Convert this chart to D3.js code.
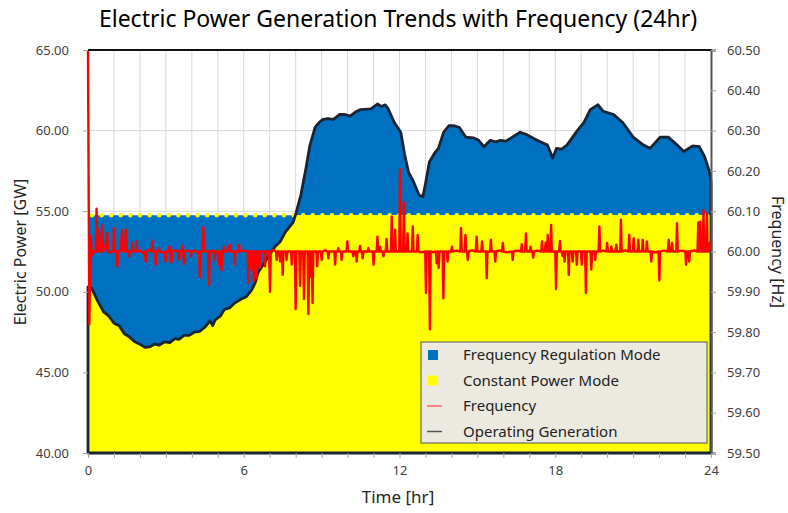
<!DOCTYPE html>
<meta charset="utf-8">
<script src="https://d3js.org/d3.v7.min.js"></script>
<style>
  body { margin: 0; background: #fff; }
  text { font-family: "Noto Sans", sans-serif; }
</style>
<body>
<div id="chart"></div>
<script>
// operating generation [hour, GW]
const generation = [
  [0, 50.3], [0.15, 50.2], [0.35, 49.5], [0.6, 48.75], [0.8, 48.5], [1.0, 48.05], [1.2, 47.9],
  [1.4, 47.4], [1.6, 47.2], [1.8, 46.9], [2.0, 46.75], [2.2, 46.55], [2.4, 46.6], [2.55, 46.75],
  [2.75, 46.7], [2.95, 46.9], [3.15, 46.85], [3.35, 47.1], [3.5, 47.05], [3.7, 47.3], [3.9, 47.3],
  [4.1, 47.5], [4.3, 47.55], [4.5, 47.8], [4.7, 48.2], [4.8, 47.9], [4.9, 48.25], [5.1, 48.5],
  [5.25, 48.9], [5.45, 49.0], [5.65, 49.3], [5.9, 49.55], [6.1, 49.7], [6.3, 50.1], [6.45, 50.6],
  [6.55, 51.2], [6.8, 51.8], [7.0, 52.3], [7.2, 52.8], [7.4, 53.1], [7.6, 53.7], [7.9, 54.3],
  [8.0, 54.8], [8.2, 56.0], [8.4, 57.7], [8.55, 59.1], [8.75, 60.2], [8.9, 60.5], [9.05, 60.7],
  [9.25, 60.75], [9.45, 60.7], [9.7, 61.0], [9.9, 61.0], [10.1, 60.9], [10.3, 61.15], [10.5, 61.3],
  [10.9, 61.35], [11.15, 61.65], [11.3, 61.5], [11.45, 61.6], [11.55, 61.4], [11.8, 60.5],
  [12.05, 59.9], [12.2, 58.5], [12.35, 57.4], [12.55, 56.8], [12.75, 56.0], [12.9, 55.9],
  [13.0, 56.7], [13.15, 58.05], [13.35, 58.6], [13.5, 58.9], [13.7, 59.9], [13.9, 60.3],
  [14.1, 60.3], [14.3, 60.2], [14.55, 59.6], [14.85, 59.55], [15.05, 59.4], [15.25, 59.0],
  [15.5, 59.4], [15.7, 59.3], [15.9, 59.4], [16.1, 59.35], [16.3, 59.55], [16.65, 59.9],
  [16.9, 59.75], [17.3, 59.4], [17.7, 59.1], [17.9, 58.3], [18.05, 58.9], [18.25, 58.85],
  [18.45, 59.1], [18.85, 60.0], [19.1, 60.5], [19.35, 61.3], [19.65, 61.6], [19.85, 61.2],
  [20.25, 61.0], [20.6, 60.5], [21.0, 59.6], [21.4, 59.1], [21.65, 58.9], [22.05, 59.6],
  [22.35, 59.6], [22.7, 59.1], [22.95, 58.7], [23.3, 59.05], [23.55, 59.0], [23.75, 58.4],
  [23.95, 57.4], [24.0, 56.8]
];

// constant power set point [GW]
const constantPower = 54.75;

// frequency [hour, Hz]
const frequency = [
  [0.00, 60.50], [0.05, 59.82], [0.10, 60.04], [0.15, 59.99], [0.22, 60.00], [0.30, 60.00],
  [0.33, 60.106], [0.36, 60.00], [0.42, 60.054], [0.45, 60.00], [0.52, 60.00], [0.55, 60.064],
  [0.58, 60.00], [0.66, 60.005], [0.74, 60.046], [0.77, 60.00], [0.85, 59.997], [0.97, 60.00],
  [1.00, 60.058], [1.03, 60.00], [1.10, 60.00], [1.13, 59.963], [1.16, 60.00], [1.25, 60.003],
  [1.32, 60.053], [1.35, 60.00], [1.43, 60.00], [1.46, 60.055], [1.50, 60.00], [1.55, 60.00],
  [1.58, 59.988], [1.61, 60.00], [1.68, 60.00], [1.71, 60.021], [1.74, 60.00], [1.84, 60.00],
  [1.87, 60.025], [1.90, 60.00], [2.00, 60.003], [2.10, 59.996], [2.19, 60.00], [2.22, 59.975],
  [2.25, 60.00], [2.35, 60.004], [2.45, 60.00], [2.48, 60.027], [2.51, 60.00], [2.58, 60.00],
  [2.61, 59.967], [2.64, 60.00], [2.70, 60.00], [2.73, 60.008], [2.76, 60.00], [2.85, 59.997],
  [2.96, 60.00], [2.99, 59.975], [3.02, 60.00], [3.10, 60.00], [3.14, 60.012], [3.18, 60.00],
  [3.21, 59.973], [3.24, 60.00], [3.35, 60.003], [3.48, 60.00], [3.51, 59.979], [3.54, 60.00],
  [3.60, 60.00], [3.63, 60.014], [3.67, 60.00], [3.70, 59.969], [3.73, 60.00], [3.85, 60.003],
  [3.93, 60.00], [3.96, 59.988], [3.99, 60.00], [4.10, 60.002], [4.20, 59.998], [4.28, 60.00],
  [4.31, 59.936], [4.34, 60.00], [4.41, 60.00], [4.44, 60.060], [4.47, 60.00], [4.55, 60.00],
  [4.63, 60.00], [4.66, 59.917], [4.69, 60.00], [4.78, 60.003], [4.85, 60.00], [4.88, 59.979],
  [4.91, 60.00], [5.02, 60.00], [5.05, 59.967], [5.08, 60.00], [5.11, 60.00], [5.14, 59.953],
  [5.17, 60.00], [5.21, 60.00], [5.24, 60.012], [5.27, 60.00], [5.36, 60.00], [5.47, 60.017],
  [5.50, 60.00], [5.62, 60.00], [5.65, 59.967], [5.68, 60.00], [5.79, 60.00], [5.82, 60.017],
  [5.85, 60.00], [5.95, 60.002], [6.15, 60.00], [6.18, 59.921], [6.21, 60.00], [6.27, 60.00],
  [6.30, 59.955], [6.33, 60.00], [6.36, 60.00], [6.39, 59.926], [6.42, 60.00], [6.47, 60.00],
  [6.50, 59.934], [6.53, 60.00], [6.59, 60.00], [6.62, 59.959], [6.65, 60.00], [6.79, 60.00],
  [6.82, 59.963], [6.85, 60.00], [6.98, 60.00], [7.01, 59.900], [7.04, 60.00], [7.15, 60.004],
  [7.24, 60.00], [7.27, 59.979], [7.30, 60.00], [7.37, 60.00], [7.40, 59.975], [7.43, 60.00],
  [7.47, 60.00], [7.50, 59.942], [7.53, 60.00], [7.62, 60.00], [7.65, 59.979], [7.68, 60.00],
  [7.82, 60.00], [7.85, 59.967], [7.88, 60.00], [7.97, 60.00], [8.00, 59.857], [8.03, 60.00],
  [8.14, 60.00], [8.17, 59.915], [8.20, 60.00], [8.29, 60.00], [8.32, 59.882], [8.35, 60.00],
  [8.46, 60.00], [8.49, 59.845], [8.52, 60.00], [8.55, 60.00], [8.58, 59.937], [8.61, 60.00],
  [8.65, 59.872], [8.68, 60.00], [8.80, 60.00], [8.83, 59.963], [8.86, 60.00], [8.97, 60.00],
  [9.00, 59.979], [9.03, 60.00], [9.15, 60.003], [9.23, 60.00], [9.26, 59.983], [9.29, 60.00],
  [9.49, 60.00], [9.52, 59.967], [9.55, 60.00], [9.61, 60.00], [9.64, 60.008], [9.67, 60.00],
  [9.74, 60.00], [9.77, 59.979], [9.80, 60.00], [9.96, 60.00], [9.99, 60.025], [10.02, 60.00],
  [10.19, 60.00], [10.22, 59.988], [10.25, 60.00], [10.32, 60.00], [10.35, 59.975], [10.38, 60.00],
  [10.45, 60.00], [10.48, 60.014], [10.51, 60.00], [10.55, 60.00], [10.58, 59.983], [10.61, 60.00],
  [10.77, 60.00], [10.80, 60.008], [10.83, 60.00], [10.97, 60.00], [11.00, 59.967], [11.03, 60.00],
  [11.12, 60.00], [11.15, 60.037], [11.18, 60.00], [11.22, 60.00], [11.25, 60.012], [11.28, 60.00],
  [11.35, 60.00], [11.38, 59.988], [11.41, 60.00], [11.47, 60.00], [11.50, 60.031], [11.53, 60.00],
  [11.67, 60.00], [11.70, 60.087], [11.73, 60.00], [11.80, 60.00], [11.83, 60.054], [11.86, 60.00],
  [11.99, 60.00], [12.02, 60.204], [12.05, 60.00], [12.14, 60.00], [12.17, 60.122], [12.20, 60.00],
  [12.28, 60.00], [12.31, 60.045], [12.34, 60.00], [12.48, 60.00], [12.51, 60.062], [12.54, 60.00],
  [12.67, 60.00], [12.70, 60.041], [12.73, 60.00], [12.85, 59.998], [12.99, 60.00], [13.02, 59.897],
  [13.05, 60.00], [13.14, 60.00], [13.17, 59.807], [13.20, 60.00], [13.30, 59.998], [13.40, 60.00],
  [13.43, 59.971], [13.46, 60.00], [13.48, 60.00], [13.51, 59.959], [13.54, 60.00], [13.66, 60.00],
  [13.69, 59.884], [13.72, 60.00], [13.82, 60.00], [13.85, 59.975], [13.88, 60.00], [13.99, 60.00],
  [14.02, 60.012], [14.05, 60.00], [14.20, 60.002], [14.34, 60.00], [14.37, 60.058], [14.40, 60.00],
  [14.51, 60.00], [14.54, 60.041], [14.57, 60.00], [14.60, 60.00], [14.63, 59.979], [14.66, 60.00],
  [14.80, 60.003], [14.94, 60.00], [14.97, 60.037], [15.00, 60.00], [15.15, 60.00], [15.18, 60.025],
  [15.21, 60.00], [15.33, 60.00], [15.36, 59.934], [15.39, 60.00], [15.49, 60.00], [15.52, 60.029],
  [15.55, 60.00], [15.66, 60.00], [15.69, 59.975], [15.72, 60.00], [15.85, 60.003], [15.95, 60.00],
  [15.98, 60.021], [16.01, 60.00], [16.15, 59.998], [16.33, 60.00], [16.36, 59.979], [16.39, 60.00],
  [16.55, 60.002], [16.68, 60.00], [16.71, 60.018], [16.74, 60.00], [16.84, 60.00], [16.87, 60.045],
  [16.90, 60.00], [17.02, 60.00], [17.05, 60.012], [17.08, 60.00], [17.12, 60.00], [17.15, 59.985],
  [17.18, 60.00], [17.30, 60.002], [17.46, 60.00], [17.49, 60.025], [17.52, 60.00], [17.60, 60.00],
  [17.63, 60.022], [17.66, 60.00], [17.68, 60.00], [17.71, 60.041], [17.74, 60.00], [17.81, 60.00],
  [17.84, 60.066], [17.87, 60.00], [18.00, 60.00], [18.03, 59.907], [18.06, 60.00], [18.15, 60.00],
  [18.18, 60.026], [18.21, 60.00], [18.25, 60.00], [18.28, 59.989], [18.31, 60.00], [18.33, 60.00],
  [18.36, 59.975], [18.39, 60.00], [18.49, 60.00], [18.52, 59.942], [18.55, 60.00], [18.64, 60.00],
  [18.67, 59.975], [18.70, 60.00], [18.80, 60.00], [18.83, 59.967], [18.86, 60.00], [18.99, 60.00],
  [19.02, 59.967], [19.05, 60.00], [19.15, 60.00], [19.18, 59.897], [19.21, 60.00], [19.36, 60.00],
  [19.39, 59.955], [19.42, 60.00], [19.51, 60.00], [19.54, 59.979], [19.57, 60.00], [19.67, 60.00],
  [19.70, 60.062], [19.73, 60.00], [19.85, 60.002], [19.97, 60.00], [20.00, 60.021], [20.03, 60.00],
  [20.13, 60.00], [20.16, 60.012], [20.19, 60.00], [20.32, 60.00], [20.35, 60.017], [20.38, 60.00],
  [20.50, 60.00], [20.53, 60.079], [20.56, 60.00], [20.70, 60.003], [20.82, 60.00], [20.85, 60.041],
  [20.88, 60.00], [20.99, 60.00], [21.02, 60.033], [21.05, 60.00], [21.17, 60.00], [21.20, 60.029],
  [21.23, 60.00], [21.34, 60.00], [21.37, 60.029], [21.40, 60.00], [21.50, 60.00], [21.53, 60.025],
  [21.56, 60.00], [21.67, 60.00], [21.70, 59.975], [21.73, 60.00], [21.85, 59.998], [21.98, 60.00],
  [22.01, 59.928], [22.04, 60.00], [22.20, 60.002], [22.34, 60.00], [22.37, 60.029], [22.40, 60.00],
  [22.47, 60.00], [22.50, 60.021], [22.53, 60.00], [22.66, 60.00], [22.69, 60.070], [22.72, 60.00],
  [22.85, 60.002], [23.01, 60.00], [23.04, 59.967], [23.07, 60.00], [23.13, 60.00], [23.16, 59.975],
  [23.19, 60.00], [23.35, 60.003], [23.48, 60.00], [23.51, 60.072], [23.54, 60.00], [23.56, 60.00],
  [23.59, 60.074], [23.62, 60.00], [23.68, 60.00], [23.71, 60.103], [23.74, 60.00], [23.81, 60.00],
  [23.84, 60.095], [23.87, 60.00], [23.93, 60.00], [23.96, 60.022], [24.00, 60.005]
];

const xTicks = d3.range(0, 25, 1);
const xLabels = [0, 6, 12, 18, 24];
const leftTicks = [40, 45, 50, 55, 60, 65];
const rightTicks = [59.5, 59.6, 59.7, 59.8, 59.9, 60.0, 60.1, 60.2, 60.3, 60.4, 60.5];

const legendItems = [
  { label: "Frequency Regulation Mode", type: "box", color: "#0070c0" },
  { label: "Constant Power Mode", type: "box", color: "#ffff00" },
  { label: "Frequency", type: "line", color: "#ff6060" },
  { label: "Operating Generation", type: "line", color: "#555" }
];

var W = 788, H = 513;
var plotL = 88, plotR = 711, plotT = 50, plotB = 453;

var svg = d3.select("#chart").append("svg")
  .attr("width", W).attr("height", H);

var x = d3.scaleLinear().domain([0, 24]).range([plotL, plotR]);
var yL = d3.scaleLinear().domain([40, 65]).range([plotB, plotT]);
var yR = d3.scaleLinear().domain([59.5, 60.5]).range([plotB, plotT]);

// grid
svg.append("g").selectAll("line.vg")
  .data(xTicks.slice(1, -1)).enter().append("line")
  .attr("x1", d => x(d)).attr("x2", d => x(d))
  .attr("y1", plotT).attr("y2", plotB)
  .attr("stroke", "#d9d9d9").attr("stroke-width", 1);
svg.append("g").selectAll("line.hg")
  .data(leftTicks.slice(1, -1)).enter().append("line")
  .attr("x1", plotL).attr("x2", plotR)
  .attr("y1", d => yL(d)).attr("y2", d => yL(d))
  .attr("stroke", "#d9d9d9").attr("stroke-width", 1);

// frequency regulation (between set point and generation)
var blueArea = d3.area()
  .x(d => x(d[0]))
  .y0(yL(constantPower))
  .y1(d => yL(d[1]));
svg.append("path").datum(generation)
  .attr("d", blueArea).attr("fill", "#0070c0");

// constant power (below set point and generation)
var yellowArea = d3.area()
  .x(d => x(d[0]))
  .y0(yL(40))
  .y1(d => yL(Math.min(d[1], constantPower)));
svg.append("path").datum(generation)
  .attr("d", yellowArea).attr("fill", "#ffff00");

// dotted set point line
svg.append("line")
  .attr("x1", x(0) + 4).attr("x2", x(24))
  .attr("y1", yL(constantPower)).attr("y2", yL(constantPower))
  .attr("stroke", "#ffff00").attr("stroke-width", 4.5)
  .attr("stroke-linecap", "round").attr("stroke-dasharray", "0 9.6");

// operating generation outline
var genOutline = d3.area()
  .x(d => x(d[0]))
  .y0(yL(40))
  .y1(d => yL(d[1]));
svg.append("path").datum(generation)
  .attr("d", genOutline).attr("fill", "none")
  .attr("stroke", "#1b2433").attr("stroke-width", 2.8)
  .attr("stroke-linejoin", "round");

// frequency
var freqLine = d3.line()
  .x(d => x(d[0]))
  .y(d => yR(d[1]));
svg.append("path").datum(frequency)
  .attr("d", freqLine).attr("fill", "none")
  .attr("stroke", "#ff0000").attr("stroke-width", 2.4)
  .attr("stroke-linejoin", "round");

// frame
svg.append("line").attr("x1", plotL).attr("x2", plotR + 1)
  .attr("y1", plotT).attr("y2", plotT)
  .attr("stroke", "#111").attr("stroke-width", 2);

// axes
var gl = svg.append("g").attr("transform", "translate(" + plotL + ",0)")
  .call(d3.axisLeft(yL).tickValues(leftTicks).tickFormat(d3.format(".2f"))
    .tickSize(5).tickPadding(14));
var gr = svg.append("g").attr("transform", "translate(" + plotR + ",0)")
  .call(d3.axisRight(yR).tickValues(rightTicks).tickFormat(d3.format(".2f"))
    .tickSize(5).tickPadding(11));
var gb = svg.append("g").attr("transform", "translate(0," + plotB + ")")
  .call(d3.axisBottom(x).tickValues(xTicks)
    .tickFormat(d => xLabels.indexOf(d) >= 0 ? d : "")
    .tickSize(5).tickPadding(8));

[gl, gr, gb].forEach(function(g) {
  g.selectAll("text").attr("fill", "#404040")
    .style("font-family", "Noto Sans").style("font-size", "13px");
  g.selectAll(".tick line").attr("stroke", "#a6a6a6");
});
gl.select(".domain").remove();
gb.select(".domain").remove();
gr.select(".domain").attr("stroke", "#555").attr("stroke-width", 2);

// titles
svg.append("text").attr("x", 398).attr("y", 27)
  .attr("text-anchor", "middle").attr("font-size", 23).attr("fill", "#000")
  .text("Electric Power Generation Trends with Frequency (24hr)");
svg.append("text").attr("x", 398).attr("y", 503)
  .attr("text-anchor", "middle").attr("font-size", 17).attr("fill", "#262626")
  .text("Time [hr]");
svg.append("text")
  .attr("transform", "translate(26," + 252 + ")rotate(-90)")
  .attr("text-anchor", "middle").attr("font-size", 16).attr("fill", "#262626")
  .text("Electric Power [GW]");
svg.append("text")
  .attr("transform", "translate(772," + 252 + ")rotate(90)")
  .attr("text-anchor", "middle").attr("font-size", 16).attr("fill", "#262626")
  .text("Frequency [Hz]");

// legend
var lg = svg.append("g").attr("transform", "translate(421,342)");
lg.append("rect").attr("width", 286).attr("height", 101)
  .attr("fill", "#ece9e1").attr("stroke", "#555").attr("stroke-width", 1);
var items = lg.selectAll("g.item").data(legendItems).enter().append("g")
  .attr("transform", (d, i) => "translate(0," + (13 + i * 25.5) + ")");
items.filter(d => d.type === "box").append("rect")
  .attr("x", 7).attr("y", -5).attr("width", 10).attr("height", 10)
  .attr("fill", d => d.color);
items.filter(d => d.type === "line").append("line")
  .attr("x1", 6).attr("x2", 21).attr("y1", 0).attr("y2", 0)
  .attr("stroke", d => d.color).attr("stroke-width", 1.5);
items.append("text").attr("x", 42).attr("y", 5)
  .attr("font-size", 15).attr("fill", "#222")
  .text(d => d.label);
</script>
</body>
